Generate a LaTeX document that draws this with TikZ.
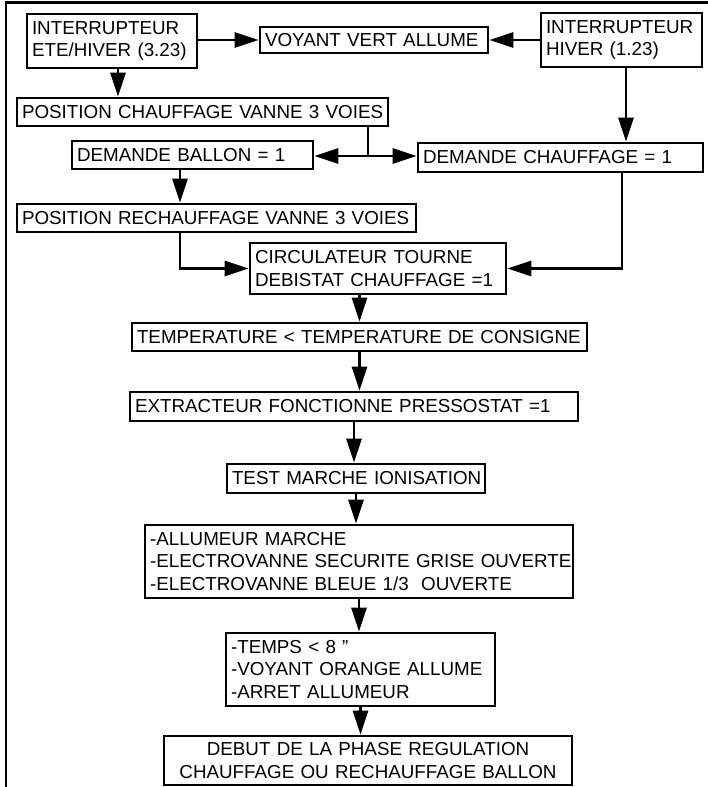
\documentclass[tikz,border=0pt]{standalone}
\usepackage{fontspec}
\setmainfont{Liberation Sans}
\usetikzlibrary{arrows.meta}
\tikzset{
  bx/.style n args={3}{draw, line width=2.6pt, inner xsep=5pt, inner ysep=0pt,
    minimum width=#1pt, text width=#2pt, minimum height=#3pt, align=left,
    font=\fontsize{18.8}{22.5}\selectfont},
  arr/.style={line width=2.6pt, -{Triangle[length=24pt,width=15pt]}},
  ln/.style={line width=2.6pt},
}
\begin{document}
\begin{tikzpicture}[x=1pt,y=-1pt]
\useasboundingbox (0,0) rectangle (708,787);
% frame
\draw[ln] (6,787) -- (6,2.5) -- (708,2.5);
% boxes
\node[bx={170}{160}{54}] (A) at (112,41) {\mbox{INTERRUPTEUR}\\\mbox{ETE/HIVER (3.23)}};
\node[bx={228}{218}{26}] (B) at (374,40) {\mbox{VOYANT VERT ALLUME}};
\node[bx={161}{151}{54}] (C) at (621.5,40) {\mbox{INTERRUPTEUR}\\\mbox{HIVER (1.23)}};
\node[bx={371}{361}{28}] (D) at (202.5,112) {\mbox{POSITION CHAUFFAGE VANNE 3 VOIES}};
\node[bx={241}{231}{28}] (E) at (192.5,155) {\mbox{DEMANDE BALLON = 1}};
\node[bx={285}{275}{29}] (F) at (560.5,157.5) {\mbox{DEMANDE CHAUFFAGE = 1}};
\node[bx={399}{389}{28}] (G) at (216.5,218) {\mbox{POSITION RECHAUFFAGE VANNE 3 VOIES}};
\node[bx={256}{246}{51}] (H) at (378,268.5) {\mbox{CIRCULATEUR TOURNE}\\\mbox{DEBISTAT CHAUFFAGE =1}};
\node[bx={455}{445}{28}] (I) at (359.5,337) {\mbox{TEMPERATURE < TEMPERATURE DE CONSIGNE}};
\node[bx={448}{438}{29}] (J) at (354,406.5) {\mbox{EXTRACTEUR FONCTIONNE PRESSOSTAT =1}};
\node[bx={258}{248}{29}] (K) at (356,478.5) {\mbox{TEST MARCHE IONISATION}};
\node[bx={428}{418}{73}] (L) at (359,561.5) {\mbox{-ALLUMEUR MARCHE}\\\mbox{-ELECTROVANNE SECURITE GRISE OUVERTE}\\\mbox{-ELECTROVANNE BLEUE 1/3\ \ OUVERTE}};
\node[bx={269}{259}{73}] (M) at (360.5,669.5) {\mbox{-TEMPS < 8 \symbol{34}}\\\mbox{-VOYANT ORANGE ALLUME}\\\mbox{-ARRET ALLUMEUR}};
\node[bx={408}{398}{49}, align=center] (N) at (368,760.5) {\mbox{DEBUT DE LA PHASE REGULATION}\\\mbox{CHAUFFAGE OU RECHAUFFAGE BALLON}};
% connectors
\coordinate (s) at (368,156);
\draw[arr] (A.east |- B.west) -- (B.west);
\draw[arr] (C.west |- B.east) -- (B.east);
\draw[arr] ([xshift=6pt]A.south) -- ([xshift=6pt]A.south |- D.north);
\draw[arr] ([xshift=4.5pt]C.south) -- ([xshift=4.5pt]C.south |- F.north);
\draw[ln] (D.south -| s) -- (s);
\draw[arr] (s) -- (s -| E.east);
\draw[arr] (s) -- (s -| F.west);
\draw[arr] ([xshift=-12.5pt]E.south) -- ([xshift=-12.5pt]E.south |- G.north);
\draw[arr] ([xshift=-36.5pt]G.south) |- (H.west);
\draw[arr] ([xshift=61.5pt]F.south) |- (H.east);
\draw[arr] (H.south -| I.north) -- (I.north);
\draw[arr] (I.south) -- (I.south |- J.north);
\draw[arr] (J.south) -- (J.south |- K.north);
\draw[arr] (K.south) -- (K.south |- L.north);
\draw[arr] (L.south) -- (L.south |- M.north);
\draw[arr] (M.south) -- (M.south |- N.north);
\end{tikzpicture}
\end{document}
